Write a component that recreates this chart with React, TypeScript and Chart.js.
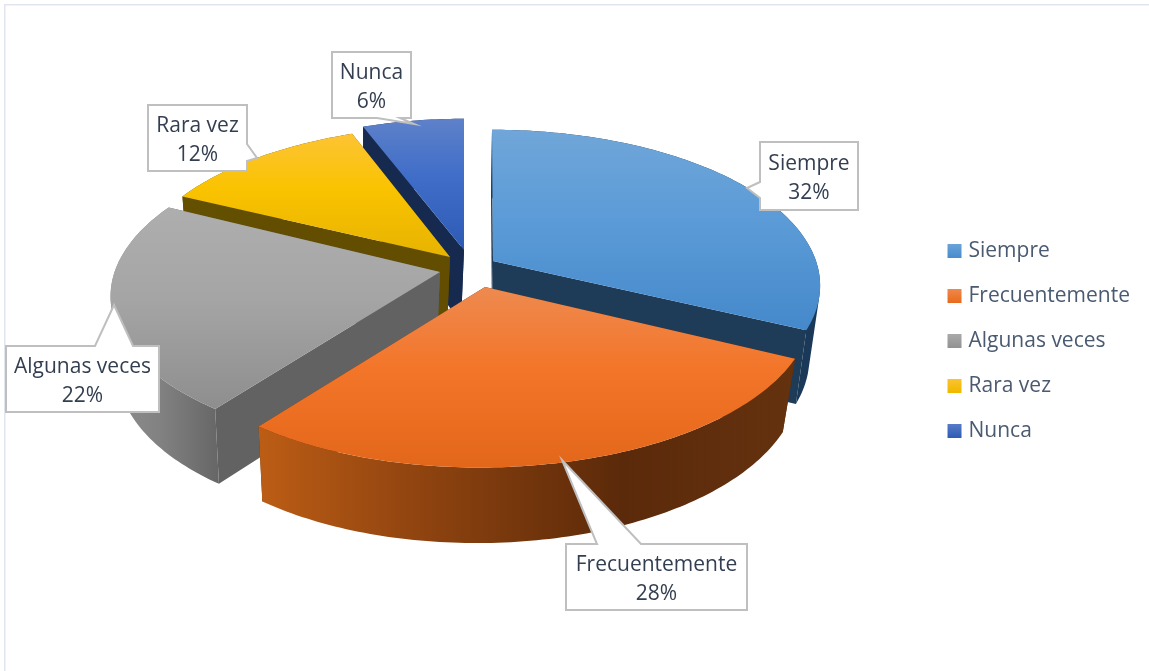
import React, { useEffect, useRef } from "react";
import { Chart, registerables } from "chart.js";

Chart.register(...registerables);

const categories = ["Siempre", "Frecuentemente", "Algunas veces", "Rara vez", "Nunca"];
const percentages = [32, 28, 22, 12, 6];

const FONT = '"Open Sans", sans-serif';
const FONT_SIZE = 21;
const TILT = 0.469;
const PERSPECTIVE = 0.158;
const DEPTH = 72;
const CENTER_SHIFT_Y = -73;
const PAINT_ORDER = [4, 3, 0, 2, 1];
const EXPLODE: number[][] = [[27, -7], [19, 19], [-26, 4], [-16, -11], [-2, -18]];
const RIM_SHEAR = [0, 10, 8, -2, 0];
const RIM_ROLL = [0, 2.5, 0, 0, 0];
const RIM_LIFT = [0, 0, -4, 0, 0];
const RIM_SLIDE = [-1, 0, 0, 8, 0];
const RIM_SCALE = [1, 1, 1, 1, 0.97];
const WALL_SHIFT = [-1, -3, -3, -3, -3];

const TOP_STOPS: string[][] = [
  ["#70A6D9", "#5B9BD7", "#4589CB"],
  ["#EE8A50", "#F37529", "#E3671A"],
  ["#AEAEAE", "#A5A5A5", "#8E8E8E"],
  ["#FDC336", "#FAC300", "#E6B300"],
  ["#5E81C9", "#3F6DC8", "#2D5BB4"],
];
const CUT_COLORS = ["#1E3C58", "#5B2A0A", "#626262", "#624D00", "#16294F"];
const WALL_STOPS: [number, string][][] = [
  [[0, "#1C3B59"], [1, "#1A3958"]],
  [[0, "#BC5D15"], [0.27, "#944610"], [0.55, "#6C320B"], [0.68, "#5B2A0A"], [1, "#65320F"]],
  [[0, "#8E8E8E"], [0.45, "#828282"], [1, "#666666"]],
  [[0, "#645000"], [1, "#624D00"]],
  [[0, "#17294F"], [1, "#16294F"]],
];
const LEGEND_STOPS = [
  ["#6CA4D9", "#4A8DCE"],
  ["#EF8A50", "#E96C1E"],
  ["#ABABAB", "#939393"],
  ["#FDC433", "#EFB900"],
  ["#5A7EC8", "#2F5DB5"],
];

type Callout = { box: number[]; edge: string; pointer: number[][] };
const CALLOUTS: Callout[] = [
  { box: [760, 142, 858, 210], edge: "left", pointer: [[760, 198], [747, 188], [760, 182]] },
  { box: [566, 544, 747, 610], edge: "top", pointer: [[597, 544], [562, 460], [641, 544]] },
  { box: [6, 346, 159, 412], edge: "top", pointer: [[95, 346], [114, 305], [133, 346]] },
  { box: [148, 105, 247, 171], edge: "right", pointer: [[247, 144], [257, 158], [247, 161]] },
  { box: [332, 52, 411, 118], edge: "bottom", pointer: [[400, 118], [414, 124], [377, 118]] },
];

const signedArea = (pts: number[][]) =>
  pts.reduce((sum, p, k) => {
    const q = pts[(k + 1) % pts.length];
    return sum + p[0] * q[1] - q[0] * p[1];
  }, 0);

const pie3d = {
  id: "pie3d",
  beforeDraw(chart: any) {
    const { ctx, width, height } = chart;
    ctx.save();
    ctx.fillStyle = "#FFFFFF";
    ctx.fillRect(0, 0, width, height);
    ctx.strokeStyle = "#E1E6EE";
    ctx.lineWidth = 1.5;
    ctx.beginPath();
    ctx.moveTo(4.75, height);
    ctx.lineTo(4.75, 4.75);
    ctx.lineTo(width, 4.75);
    ctx.stroke();
    ctx.restore();
  },
  beforeDatasetDraw(chart: any, args: any) {
    const { ctx } = chart;
    const arcs = args.meta.data;
    ctx.save();
    PAINT_ORDER.forEach((i) => {
      const arc = arcs[i];
      const R = arc.outerRadius * RIM_SCALE[i];
      const ax = arc.x + EXPLODE[i][0];
      const ay = arc.y + CENTER_SHIFT_Y + EXPLODE[i][1];
      const project = (r: number, a: number, low: boolean) => {
        const u = r * Math.cos(a);
        const v = r * Math.sin(a);
        const w = 1 - PERSPECTIVE * v;
        const x = ax + (R * u) / w - RIM_SHEAR[i] * v + RIM_SLIDE[i] * r;
        const y = ay + (arc.outerRadius * TILT * v) / w + RIM_ROLL[i] * u + RIM_LIFT[i] * r;
        if (!low) return [x, y];
        return [ax + (x - ax) * 0.97 + WALL_SHIFT[i], y + DEPTH * (1 + 0.05 * v)];
      };
      const rim = (low: boolean) => {
        const pts: number[][] = [];
        const steps = Math.max(2, Math.ceil(((arc.endAngle - arc.startAngle) * 180) / Math.PI));
        for (let k = 0; k <= steps; k++) {
          pts.push(project(1, arc.startAngle + ((arc.endAngle - arc.startAngle) * k) / steps, low));
        }
        return pts;
      };
      const trace = (pts: number[][]) => {
        pts.forEach((p, k) => (k ? ctx.lineTo(p[0], p[1]) : ctx.moveTo(p[0], p[1])));
        ctx.closePath();
      };
      const poly = (pts: number[][], fill: any) => {
        ctx.beginPath();
        trace(pts);
        ctx.fillStyle = fill;
        ctx.fill();
      };
      const top = rim(false);
      const low = rim(true);
      const apex = project(0, 0, false);
      const apexLow = project(0, 0, true);
      // cut faces
      poly([apex, top[0], low[0], apexLow], CUT_COLORS[i]);
      poly([apex, top[top.length - 1], low[low.length - 1], apexLow], CUT_COLORS[i]);
      // outer wall: same-winding quads in one path, so no seams and a full silhouette
      const xs = low.concat(top).map((p) => p[0]);
      const wall = ctx.createLinearGradient(Math.min(...xs), 0, Math.max(...xs), 0);
      WALL_STOPS[i].forEach(([o, c]) => wall.addColorStop(o, c));
      ctx.beginPath();
      for (let k = 0; k + 1 < top.length; k++) {
        const quad = [top[k], top[k + 1], low[k + 1], low[k]];
        trace(signedArea(quad) < 0 ? quad.reverse() : quad);
      }
      ctx.fillStyle = wall;
      ctx.fill("nonzero");
      // top face
      const face = [apex, ...top];
      const ys = face.map((p) => p[1]);
      const grad = ctx.createLinearGradient(0, Math.min(...ys), 0, Math.max(...ys));
      grad.addColorStop(0, TOP_STOPS[i][0]);
      grad.addColorStop(0.45, TOP_STOPS[i][1]);
      grad.addColorStop(1, TOP_STOPS[i][2]);
      poly(face, grad);
    });
    ctx.restore();
    return false;
  },
  afterDatasetsDraw(chart: any) {
    const { ctx } = chart;
    ctx.save();
    CALLOUTS.forEach((c, i) => {
      const [x0, y0, x1, y1] = c.box;
      const pts: number[][] = [[x0, y0]];
      if (c.edge === "top") pts.push(...c.pointer);
      pts.push([x1, y0]);
      if (c.edge === "right") pts.push(...c.pointer);
      pts.push([x1, y1]);
      if (c.edge === "bottom") pts.push(...c.pointer);
      pts.push([x0, y1]);
      if (c.edge === "left") pts.push(...c.pointer);
      ctx.beginPath();
      pts.forEach((p, k) => (k ? ctx.lineTo(p[0], p[1]) : ctx.moveTo(p[0], p[1])));
      ctx.closePath();
      ctx.fillStyle = "#FFFFFF";
      ctx.fill();
      ctx.strokeStyle = "#BFBFBF";
      ctx.lineWidth = 2;
      ctx.lineJoin = "miter";
      ctx.stroke();
      ctx.fillStyle = "#333F50";
      ctx.font = `${FONT_SIZE}px ${FONT}`;
      ctx.textAlign = "center";
      ctx.textBaseline = "middle";
      const cx = (x0 + x1) / 2;
      const cy = (y0 + y1) / 2;
      ctx.fillText(categories[i], cx, cy - 11.5);
      ctx.fillText(`${percentages[i]}%`, cx, cy + 17.5);
    });
    ctx.restore();
  },
};

export default function App() {
  const ref = useRef<HTMLCanvasElement>(null);
  useEffect(() => {
    document.body.style.margin = "0";
    const canvas = ref.current as HTMLCanvasElement;
    const ctx = canvas.getContext("2d") as CanvasRenderingContext2D;
    const legendFill = categories.map((_, i) => {
      const g = ctx.createLinearGradient(0, 243 + 45 * i, 0, 257 + 45 * i);
      g.addColorStop(0, LEGEND_STOPS[i][0]);
      g.addColorStop(1, LEGEND_STOPS[i][1]);
      return g;
    });
    const chart = new Chart(canvas, {
      type: "pie",
      data: {
        labels: categories,
        datasets: [{ data: percentages, backgroundColor: TOP_STOPS.map((s) => s[1]), borderWidth: 0 }],
      },
      plugins: [pie3d],
      options: {
        animation: false,
        responsive: false,
        events: [],
        radius: 324,
        layout: { padding: { top: 11, left: 5, right: 9 } },
        plugins: {
          tooltip: { enabled: false },
          title: { display: false },
          legend: {
            display: true,
            position: "right",
            labels: {
              boxWidth: 7,
              boxHeight: 7,
              padding: 24,
              color: "#4A5A70",
              font: { family: FONT, size: FONT_SIZE },
              generateLabels: () =>
                categories.map((text, i) => ({
                  text,
                  fillStyle: legendFill[i],
                  strokeStyle: legendFill[i],
                  lineWidth: 7,
                  fontColor: "#4A5A70",
                  hidden: false,
                  index: i,
                })),
            },
          },
        },
      },
    } as any);
    return () => chart.destroy();
  }, []);
  return (
    <div style={{ width: 1149, height: 671, overflow: "hidden" }}>
      <canvas ref={ref} width={1149} height={671} style={{ display: "block" }} />
    </div>
  );
}
